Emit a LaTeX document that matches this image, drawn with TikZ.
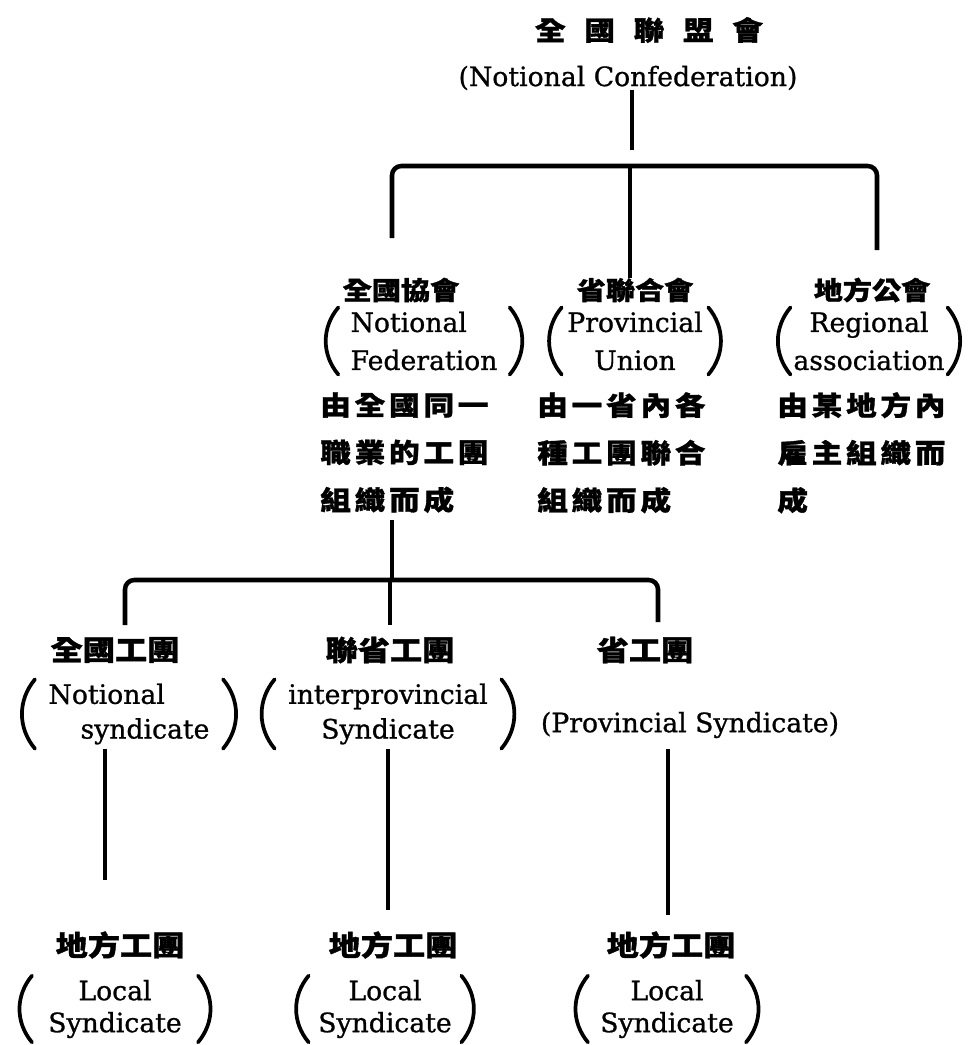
\documentclass[tikz,border=0pt]{standalone}
\usepackage{fontspec}
\setmainfont{DejaVu Serif}[FakeBold=0.9]
\newfontfamily\cjk{Noto Sans CJK TC}[FakeStretch=1.15,BoldFeatures={FakeBold=1.2}]
\newfontfamily\cjksp{Noto Sans CJK TC}[FakeStretch=1.15,LetterSpace=14,BoldFeatures={FakeBold=1.2}]
\newcommand\myparens[2]{%
  \draw[paren] ([xshift=-#2]#1.north west) to[bend right=40] ([xshift=-#2]#1.south west);
  \draw[paren] ([xshift=#2]#1.north east) to[bend left=40] ([xshift=#2]#1.south east);}
\begin{document}
\begin{tikzpicture}[x=0.75pt,y=-0.75pt,
  ttl/.style={font=\cjk\bfseries\fontsize{20}{22}\selectfont, inner sep=0pt},
  head/.style={font=\cjk\bfseries\fontsize{19}{22}\selectfont, inner sep=0pt},
  headb/.style={font=\cjk\bfseries\fontsize{21}{24}\selectfont, inner sep=0pt},
  body/.style={font=\cjksp\bfseries\fontsize{20}{35.6}\selectfont, align=left, inner sep=0pt, anchor=north west},
  en/.style={font=\fontsize{20}{24}\selectfont, inner sep=0pt},
  entwo/.style={font=\fontsize{20}{28.5}\selectfont, inner xsep=1pt, inner ysep=3pt},
  enthree/.style={font=\fontsize{20}{26}\selectfont, inner xsep=1pt, inner ysep=3pt},
  enfour/.style={font=\fontsize{20}{24}\selectfont, inner xsep=1pt, inner ysep=3pt, align=center},
  link/.style={line width=3.4pt},
  paren/.style={line width=2.8pt, line cap=round}]
\path[use as bounding box] (0,0) rectangle (967,1045);

% top
\node[ttl] (top) at (649,30) {全\hspace{14pt}國\hspace{14pt}聯\hspace{14pt}盟\hspace{14pt}會};
\node[en] (sub) at (628,78) {(Notional Confederation)};

% level 2
\node[head] (h2a) at (401,290) {全國協會};
\node[head] (h2b) at (635,290) {省聯合會};
\node[head] (h2c) at (872,290) {地方公會};
\node[entwo, align=left] (e2a) at (424,341) {Notional\\Federation};
\node[entwo, align=center] (e2b) at (635,341) {Provincial\\Union};
\node[entwo, align=center] (e2c) at (869,341) {Regional\\association};
\myparens{e2a}{8pt}
\myparens{e2b}{3pt}
\myparens{e2c}{1pt}
\node[body] (b1) at (320,392) {由全國同一\\職業的工團\\組織而成};
\node[body] (b2) at (537,392) {由一省內各\\種工團聯合\\組織而成};
\node[body] (b3) at (777,392) {由某地方內\\雇主組織而\\成};

% level 3
\node[headb] (h3a) at (115,650) {全國工團};
\node[headb] (h3b) at (390,650) {聯省工團};
\node[headb] (h3c) at (645,650) {省工團};
\node[enthree, align=left] (e3a) at (129,714) {Notional\\\hspace*{24pt}syndicate};
\node[enthree, align=center] (e3b) at (388,714) {interprovincial\\Syndicate};
\node[en] (e3c) at (690,725) {(Provincial Syndicate)};
\myparens{e3a}{9pt}
\myparens{e3b}{9pt}

% level 4
\node[headb] (h4a) at (120,945) {地方工團};
\node[headb] (h4b) at (393,945) {地方工團};
\node[headb] (h4c) at (671,945) {地方工團};
\node[enfour] (e4a) at (115,1009) {Local\\Syndicate};
\node[enfour] (e4b) at (385,1009) {Local\\Syndicate};
\node[enfour] (e4c) at (667,1009) {Local\\Syndicate};
\myparens{e4a}{11pt}
\myparens{e4b}{6pt}
\myparens{e4c}{8pt}

% connectors, upper bracket
\coordinate (j0) at (632,150);
\coordinate (L1) at (392,166);
\coordinate (C1) at (630,166);
\coordinate (R1) at (877,166);
\coordinate (d1) at (392,238);
\coordinate (d3) at (877,250);
\draw[link] (sub.south -| j0) -- (j0);
\draw[link, rounded corners=7pt] (d1) -- (L1) -- (R1) -- (d3);
\draw[link] (C1) -- (h2b.north -| C1);

% lower bracket
\coordinate (C2) at (392,580);
\coordinate (L2) at (125,580);
\coordinate (R2) at (658,580);
\coordinate (d4) at (125,625);
\coordinate (d5) at (390,625);
\coordinate (d6) at (658,622);
\draw[link] ([yshift=-5pt]b1.south -| C2) -- (C2);
\draw[link, rounded corners=7pt] (d4) -- (L2) -- (R2) -- (d6);
\draw[link] (d5 |- C2) -- (d5);

% lower verticals
\coordinate (v1) at (105,880);
\coordinate (v2) at (388,910);
\coordinate (v3) at (668,915);
\draw[link] (e3a.south -| v1) -- (v1);
\draw[link] (e3b.south -| v2) -- (v2);
\draw[link] ([yshift=-8pt]e3c.south -| v3) -- (v3);
\end{tikzpicture}
\end{document}
